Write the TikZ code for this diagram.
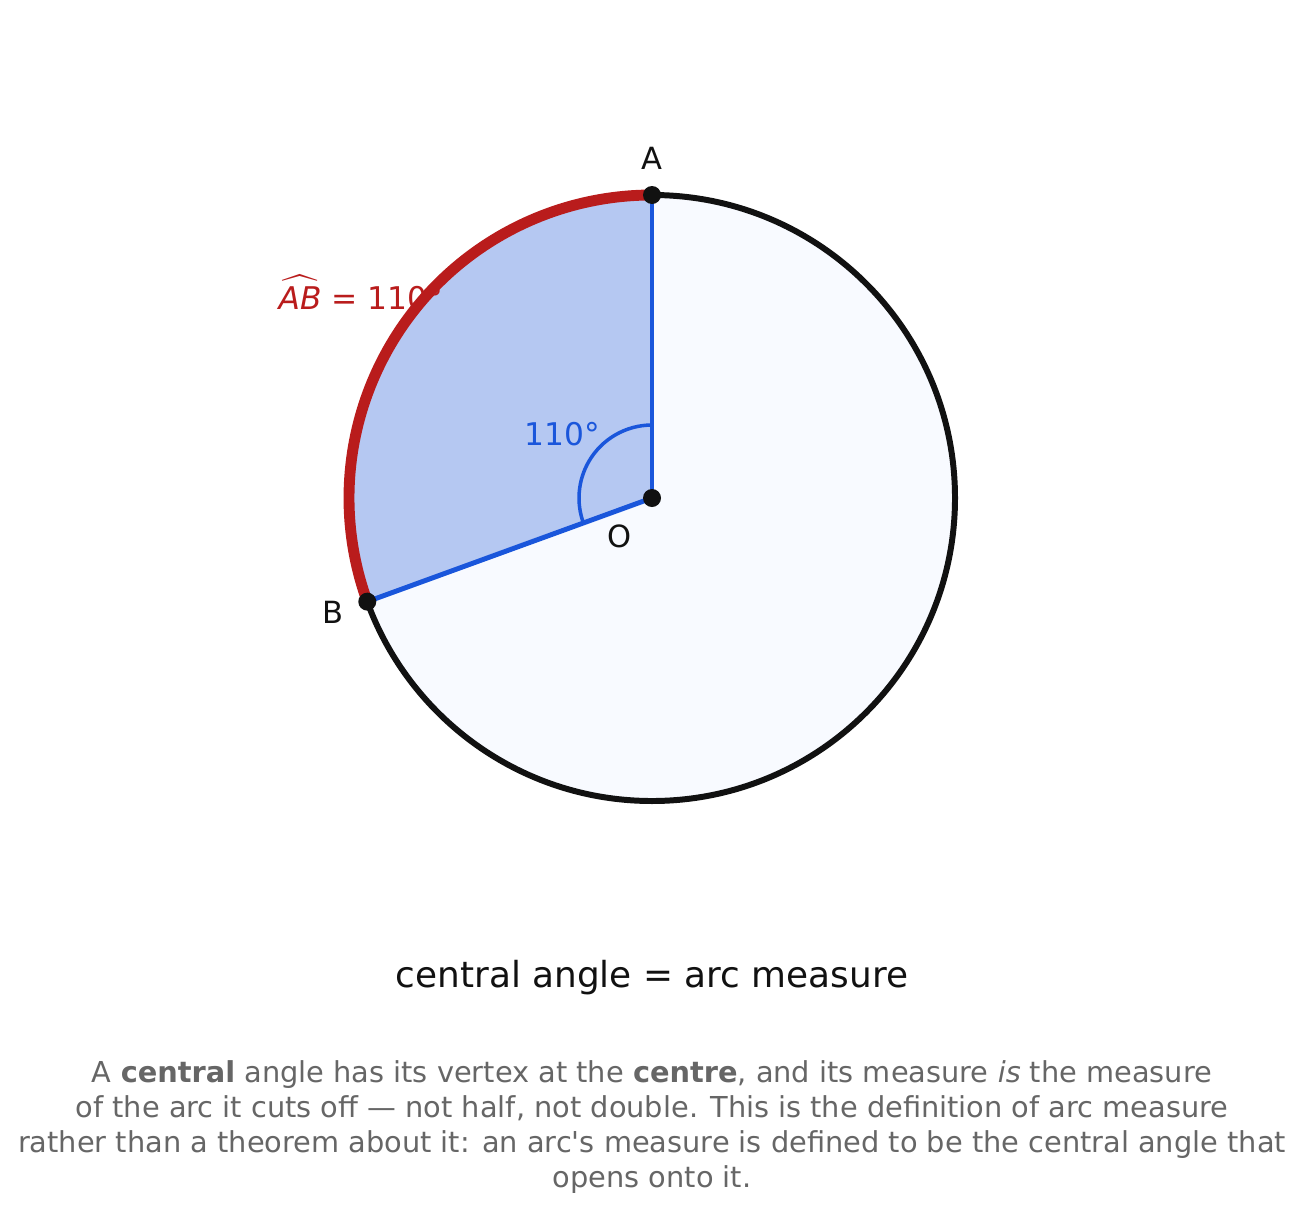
\documentclass[tikz,border=0pt]{standalone}
\usepackage{fontspec}
\setmainfont{DejaVu Sans}
\definecolor{rimblack}{HTML}{111111}
\definecolor{arcred}{HTML}{B91C1C}
\definecolor{rayblue}{HTML}{1A56DB}
\definecolor{secfill}{HTML}{B5C8F2}
\definecolor{discfill}{HTML}{F8FAFF}
\definecolor{notegray}{HTML}{666666}
\tikzset{
  rim/.style={draw=rimblack, line width=1.7pt, fill=discfill},
  arcmark/.style={draw=arcred, line width=3.1pt},
  ray/.style={draw=rayblue, line width=1.4pt},
  anglemark/.style={draw=rayblue, line width=1pt},
  dot/.style={circle, fill=rimblack, inner sep=0pt, minimum size=0.18cm},
  ptlabel/.style={inner sep=0pt, text=rimblack, font=\fontsize{8.7}{10}\selectfont},
}
\begin{document}
\begin{tikzpicture}
  \useasboundingbox (0,0) rectangle (13.03,12.17);
  \begin{scope}[shift={(6.52,7.19)}]
    \coordinate (O) at (0,0);
    \coordinate (A) at (90:3.03);
    \coordinate (B) at (200:3.03);
    % disc and sector
    \path[rim] (O) circle[radius=3.03];
    \fill[secfill] (O) -- (A) arc[start angle=90, end angle=200, radius=3.03] -- cycle;
    \node[anchor=base west, inner sep=0pt, text=arcred,
      font=\fontsize{8.9}{10}\selectfont] (arclabel) at (-3.74,1.89)
      {$\widehat{\mbox{\itshape AB}}$ = 110°};
    \draw[arcmark] (A) arc[start angle=90, end angle=200, radius=3.03];
    \begin{scope}[ray]
      \draw (O) -- (A);
      \draw (O) -- (B);
    \end{scope}
    \draw[anglemark] (90:0.73) arc[start angle=90, end angle=200, radius=0.73];
    \node[ptlabel, text=rayblue, font=\fontsize{8.9}{10}\selectfont] (anglelabel) at (-0.90,0.64) {110°};
    \node[dot] (dotO) at (O) {};
    \node[dot] (dotA) at (A) {};
    \node[dot] (dotB) at (B) {};
    \node[ptlabel] (labA) at (0,3.40) {A};
    \node[ptlabel] (labB) at (-3.19,-1.14) {B};
    \node[ptlabel] (labO) at (-0.32,-0.38) {O};
  \end{scope}
  % caption
  \node[anchor=base, inner sep=0pt, text=rimblack, font=\fontsize{10.2}{12}\selectfont]
    (title) at (6.52,2.30) {central angle = arc measure};
  \node[anchor=north, inner sep=0pt, align=center, text=notegray,
    font=\fontsize{8.2}{9.96}\selectfont] (note) at (6.52,1.57)
    {A \textbf{central} angle has its vertex at the \textbf{centre}, and its measure \textit{is} the measure\\
     of the arc it cuts off — not half, not double. This is the definition of arc measure\\
     rather than a theorem about it: an arc\textquotesingle s measure is defined to be the central angle that\\
     opens onto it.};
\end{tikzpicture}
\end{document}
